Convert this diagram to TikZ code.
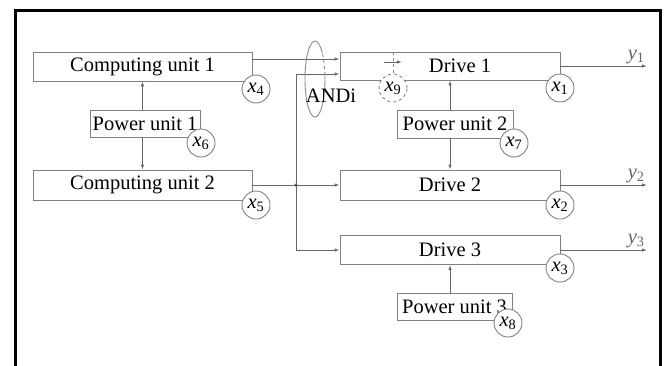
\documentclass[tikz,border=0pt]{standalone}
\usepackage{fontspec}
\setmainfont{Liberation Serif}
\usetikzlibrary{arrows.meta, positioning, calc}

\newcommand{\xvar}[1]{\textit{x}\textsubscript{#1}}
\newcommand{\yvar}[1]{\textit{y}\textsubscript{#1}}

\begin{document}
\begin{tikzpicture}[x=1pt, y=-1pt, >={Latex[length=5pt, width=3.5pt]},
    font=\fontsize{20.5}{24}\selectfont,
    unit/.style={rectangle, draw=black!50, line width=0.9pt, inner sep=1pt,
      minimum height=29pt},
    state/.style={circle, draw=black!50, line width=0.9pt, fill=white,
      inner sep=0pt, minimum size=28pt},
    hidden/.style={state, dashed},
    wire/.style={black!60, line width=0.9pt},
    dot/.style={circle, fill=black!70, inner sep=0pt, minimum size=3.5pt}]

  \useasboundingbox (0,0) rectangle (668,365);
  \clip (0,0) rectangle (668,365);

  % outer frame
  \draw[line width=3pt] (15.5,10.5) rectangle (660.5,385);

  % computing side
  \node[unit, minimum width=219pt] (cu1) at (142.5,66.5) {Computing unit 1};
  \node[unit, minimum width=110pt, minimum height=27pt] (pu1) at (145,123.5) {Power unit 1};
  \node[unit, minimum width=219pt, minimum height=30pt] (cu2) at (142.5,185) {Computing unit 2};

  % drives
  \node[unit, minimum width=220pt, minimum height=28pt] (d1) at (450,66) {\hspace{20pt}Drive 1};
  \node[unit, minimum width=220pt, minimum height=30pt] (d2) at (450,185) {Drive 2};
  \node[unit, minimum width=220pt] (d3) at (450,250) {Drive 3};
  \node[unit, minimum width=116pt, minimum height=28pt] (pu2) at (455,124) {Power unit 2};
  \node[unit, minimum width=115pt, minimum height=27pt] (pu3) at (454.5,306.5) {Power unit 3};

  % connection points
  \coordinate (in1) at ([yshift=7pt]d1.west);
  \coordinate (in2) at ([yshift=-8pt]d1.west);
  \coordinate (jn) at ($(cu2.east)!0.5!(d2.west)$);
  \coordinate (out) at (647,0);
  \coordinate (andc) at (315,79);

  % signal lines
  \draw[wire, ->] (cu1.east |- in1) -- (in1);
  \draw[wire, ->] (cu2.east) -- (d2.west);
  \draw[wire, ->] (jn |- in2) -- (in2);
  \draw[wire, ->] (jn |- in2) |- (d3.west);
  \node[dot] (jdot) at (jn) {};

  % power supply
  \draw[wire, ->] (cu1.south |- pu1.north) -- (cu1.south);
  \draw[wire, ->] (cu1.south |- pu1.south) -- (cu2.north);
  \draw[wire, ->] (d1.south |- pu2.north) -- (d1.south);
  \draw[wire, ->] (d1.south |- pu2.south) -- (d2.north);
  \draw[wire, ->] (d3.south |- pu3.north) -- (d3.south);

  % outputs
  \draw[wire, ->] (d1.east) -- (d1.east -| out) node[above left, inner sep=2pt] {\yvar{1}};
  \draw[wire, ->] (d2.east) -- (d2.east -| out) node[above left, inner sep=2pt] {\yvar{2}};
  \draw[wire, ->] (d3.east) -- (d3.east -| out) node[above left, inner sep=2pt] {\yvar{3}};

  % AND element
  \draw[wire, black!45] ([shift={(43:10pt and 38pt)}]andc)
    arc[start angle=43, end angle=366, x radius=10pt, y radius=38pt];
  \draw[wire, black!45, dashed] ([shift={(6:10pt and 38pt)}]andc)
    arc[start angle=6, end angle=43, x radius=10pt, y radius=38pt];
  \node (andi) at (331,96) {ANDi};

  % states
  \node[state] (x4) at (256,89) {\xvar{4}};
  \node[state] (x6) at (201,143) {\xvar{6}};
  \node[state] (x5) at (256,205) {\xvar{5}};
  \node[hidden] (x9) at (393,88) {\xvar{9}};
  \node[state] (x1) at (560,88) {\xvar{1}};
  \node[state] (x7) at (514,143) {\xvar{7}};
  \node[state] (x2) at (560,205) {\xvar{2}};
  \node[state] (x3) at (560,268) {\xvar{3}};
  \node[state] (x8) at (508,323) {\xvar{8}};

  % hidden state marker
  \draw[wire, black!45, dashed] (d1.north -| x9) -- (x9.north);
  \draw[wire, ->] ([shift={(-9pt,26pt)}]x9.center) -- ++(18pt,0pt);

\end{tikzpicture}
\end{document}
